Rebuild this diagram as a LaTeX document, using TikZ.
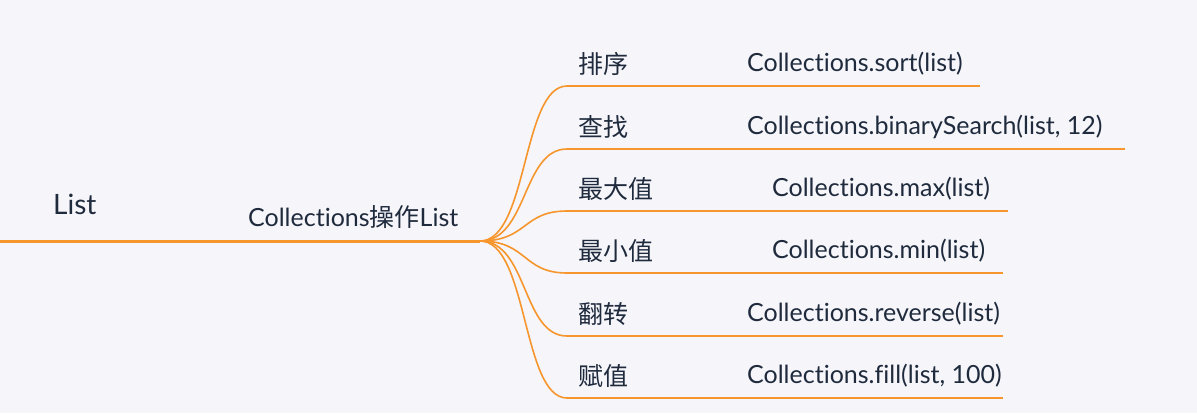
\documentclass[tikz,border=0pt]{standalone}
\usepackage{fontspec}
\setmainfont{Lato}[Ligatures=NoCommon]
\newfontfamily\cjk{Noto Sans CJK SC}
\usetikzlibrary{positioning}

\definecolor{branch}{HTML}{F7962C}
\definecolor{ink}{HTML}{1F2B3D}
\definecolor{paper}{HTML}{F5F5FA}

\tikzset{
  leaf/.style={text=ink, font=\fontsize{25}{30}\selectfont, anchor=west, inner sep=0pt},
  edge/.style={draw=branch, line width=1.6pt},
  trunk/.style={draw=branch, line width=3pt},
}

\begin{document}
\begin{tikzpicture}[x=1pt,y=-1pt]
\fill[paper] (0,0) rectangle (1197,413);
\useasboundingbox (0,0) rectangle (1197,413);

\node[leaf, font=\fontsize{28}{32}\selectfont] (root) at (53,204) {List};
\node[leaf] (topic) at (248,217) {Collections{\cjk 操作}List};
\coordinate (start) at (0,241);
\coordinate (hub) at (480,241);
\draw[trunk] (start) -- (hub);   % main branch

% the six operations
\foreach \n/\y/\name/\code/\cx/\ex in {
    1/86/排序/{Collections.sort(list)}/747/980,
    2/149/查找/{Collections.binarySearch(list, 12)}/747/1125,
    3/211/最大值/{Collections.max(list)}/772/1008,
    4/273/最小值/{Collections.min(list)}/772/1003,
    5/336/翻转/{Collections.reverse(list)}/747/1003,
    6/398/赋值/{Collections.fill(list, 100)}/747/1003}{
  \coordinate (c\n) at (567,\y);
  \coordinate (d\n) at (733,\y);
  \coordinate (e\n) at (\ex,\y);
  \node[leaf] (k\n) at (578,\y-22) {\cjk\name};
  \node[leaf] (m\n) at (\cx,\y-22) {\code};
  \draw[edge] (hub) .. controls (528,241) and (522,\y) .. (c\n) -- (d\n);
  \draw[edge] (d\n) -- (e\n);
}
\end{tikzpicture}
\end{document}
